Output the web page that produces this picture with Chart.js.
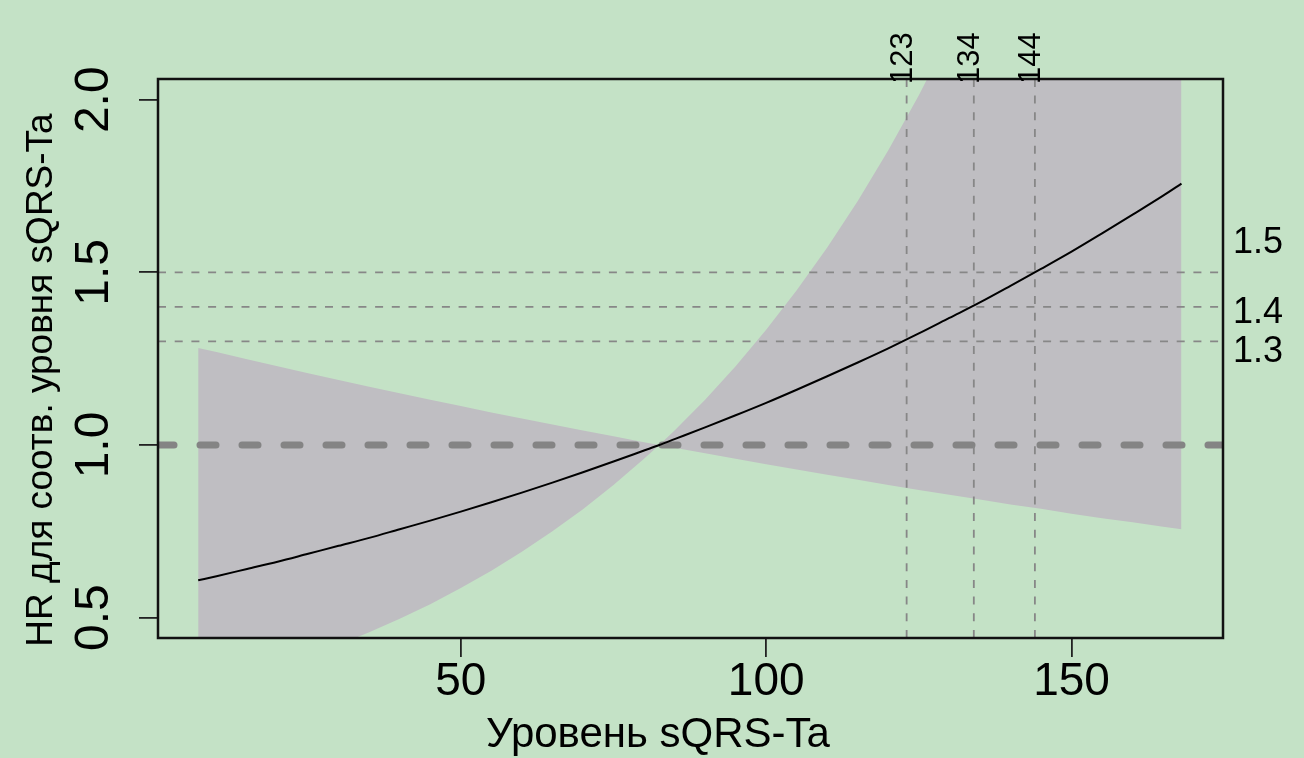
<!DOCTYPE html>
<html>
<head>
<meta charset="utf-8">
<script src="https://cdn.jsdelivr.net/npm/chart.js@4.4.1/dist/chart.umd.min.js"></script>
<style>
  html, body { margin: 0; padding: 0; background: #C4E2C6; }
  #wrap { width: 1304px; height: 758px; }
</style>
</head>
<body>
<div id="wrap"><canvas id="hrChart" width="1304" height="758"></canvas></div>
<script>
// sQRS-Ta level (x) and hazard ratio with its confidence band
const sqrsLevels = [7, 10, 15, 20, 25, 30, 35, 40, 45, 50, 55, 60, 65, 70, 75, 80, 82.5,
                    85, 90, 95, 100, 105, 110, 115, 120, 125, 130, 135, 140, 145, 150, 155, 160, 165, 168];
const hrValues = [0.608, 0.620, 0.641, 0.662, 0.685, 0.708, 0.731, 0.756, 0.781, 0.807, 0.834, 0.862, 0.891, 0.921, 0.952, 0.984, 1.000,
                  1.017, 1.051, 1.086, 1.122, 1.160, 1.199, 1.239, 1.280, 1.323, 1.368, 1.413, 1.461, 1.510, 1.560, 1.613, 1.667, 1.722, 1.757];
const hrLower = [0.289, 0.303, 0.329, 0.358, 0.388, 0.421, 0.458, 0.497, 0.539, 0.586, 0.636, 0.691, 0.750, 0.814, 0.884, 0.960, 1.000,
                 0.992, 0.976, 0.960, 0.944, 0.929, 0.914, 0.899, 0.884, 0.870, 0.856, 0.842, 0.828, 0.815, 0.801, 0.788, 0.776, 0.763, 0.756];
const hrUpper = [1.281, 1.269, 1.248, 1.228, 1.208, 1.188, 1.169, 1.150, 1.131, 1.113, 1.094, 1.077, 1.059, 1.042, 1.025, 1.008, 1.000,
                 1.042, 1.131, 1.228, 1.334, 1.448, 1.572, 1.707, 1.854, 2.013, 2.186, 2.373, 2.577, 2.798, 3.038, 3.298, 3.581, 3.888, 4.085];

// cut-off levels and the hazard ratios they correspond to
const cutoffLevels = [123, 134, 144];
const cutoffHR = [1.3, 1.4, 1.5];
const referenceHR = 1.0;

// axis ticks and limits
const xTickValues = [50, 100, 150];
const yTickValues = [0.5, 1.0, 1.5, 2.0];
const xLimits = [0.42, 174.8];
const yLimits = [0.441, 2.06];

const xTitle = 'Уровень sQRS-Ta';
const yTitle = 'HR для соотв. уровня sQRS-Ta';

const FONT = "'Liberation Sans', Arial, Helvetica, sans-serif";
const BG = '#C4E2C6';
const BAND = '#BFBEC2';
const REF_GREY = '#878787';

const toPoints = (xs, ys) => xs.map((x, i) => ({ x: x, y: ys[i] }));

const datasets = [];
// fitted hazard ratio curve
datasets.push({
  label: 'HR', data: toPoints(sqrsLevels, hrValues),
  borderColor: '#000', borderWidth: 2, pointRadius: 0,
  cubicInterpolationMode: 'monotone', fill: false, order: 0
});
// thin dashed guides: horizontal at the cut-off HRs, vertical at the cut-off levels
cutoffHR.forEach(v => datasets.push({
  data: [{ x: xLimits[0], y: v }, { x: xLimits[1], y: v }],
  borderColor: REF_GREY, borderWidth: 1.8, borderDash: [8, 8.7],
  pointRadius: 0, fill: false, order: 1
}));
cutoffLevels.forEach(v => datasets.push({
  data: [{ x: v, y: yLimits[0] }, { x: v, y: yLimits[1] }],
  borderColor: REF_GREY, borderWidth: 1.8, borderDash: [8, 8.7],
  pointRadius: 0, fill: false, order: 1
}));
// heavy dashed reference line at HR = 1
datasets.push({
  data: [{ x: xLimits[0], y: referenceHR }, { x: xLimits[1], y: referenceHR }],
  borderColor: '#848484', borderWidth: 7, borderDash: [16, 26], borderCapStyle: 'round',
  pointRadius: 0, fill: false, order: 1
});
// confidence band (upper edge filled down to the lower edge)
datasets.push({
  data: toPoints(sqrsLevels, hrUpper), borderWidth: 0, borderColor: 'rgba(0,0,0,0)',
  backgroundColor: BAND, pointRadius: 0, fill: '+1', order: 2
});
datasets.push({
  data: toPoints(sqrsLevels, hrLower), borderWidth: 0, borderColor: 'rgba(0,0,0,0)',
  backgroundColor: BAND, pointRadius: 0, fill: false, order: 2
});

const decorations = {
  id: 'decorations',
  beforeDraw(chart) {
    const ctx = chart.ctx;
    ctx.save();
    ctx.fillStyle = BG;
    ctx.fillRect(0, 0, chart.width, chart.height);
    ctx.restore();
  },
  afterDatasetsDraw(chart) {
    const { ctx, chartArea: a } = chart;
    ctx.save();
    ctx.strokeStyle = '#111';
    ctx.lineWidth = 2.5;
    ctx.strokeRect(a.left, a.top, a.right - a.left, a.bottom - a.top);
    ctx.restore();
  },
  afterDraw(chart) {
    const { ctx, chartArea: a } = chart;
    const xs = chart.scales.x, ys = chart.scales.y;
    ctx.save();
    ctx.fillStyle = '#000';
    ctx.textBaseline = 'alphabetic';

    // y tick labels, written along the axis
    ctx.font = '48px ' + FONT;
    ctx.textAlign = 'center';
    yTickValues.forEach(v => {
      ctx.save();
      ctx.translate(a.left - 50, ys.getPixelForValue(v));
      ctx.rotate(-Math.PI / 2);
      ctx.fillText(v.toFixed(1), 0, 0);
      ctx.restore();
    });

    // y axis title
    ctx.font = '37px ' + FONT;
    ctx.save();
    ctx.translate(52, 380);
    ctx.rotate(-Math.PI / 2);
    ctx.fillText(yTitle, 0, 0);
    ctx.restore();

    // x axis title
    ctx.font = '42px ' + FONT;
    ctx.fillText(xTitle, 658, 747);

    // cut-off levels above the plot
    ctx.font = '31px ' + FONT;
    ctx.textAlign = 'left';
    cutoffLevels.forEach(v => {
      ctx.save();
      ctx.translate(xs.getPixelForValue(v) + 5.5, a.top + 5);
      ctx.rotate(-Math.PI / 2);
      ctx.fillText(String(v), 0, 0);
      ctx.restore();
    });

    // cut-off HRs to the right of the plot
    ctx.font = '36px ' + FONT;
    const shift = { '1.3': 21, '1.4': 16, '1.5': -19.4 };
    cutoffHR.forEach(v => {
      const t = v.toFixed(1);
      ctx.fillText(t, a.right + 10, ys.getPixelForValue(v) + shift[t]);
    });
    ctx.restore();
  }
};

new Chart(document.getElementById('hrChart'), {
  type: 'line',
  data: { datasets: datasets },
  plugins: [decorations],
  options: {
    responsive: false,
    animation: false,
    devicePixelRatio: 1,
    layout: { padding: { left: 0, top: 79, right: 81, bottom: 0 } },
    plugins: { legend: { display: false }, tooltip: { enabled: false } },
    elements: { line: { tension: 0 } },
    scales: {
      x: {
        type: 'linear', position: 'bottom', min: xLimits[0], max: xLimits[1],
        afterBuildTicks: s => { s.ticks = xTickValues.map(v => ({ value: v })); },
        afterFit: s => { s.height = 120; },
        border: { display: false },
        grid: { drawOnChartArea: false, drawTicks: true, tickLength: 19, color: '#222', lineWidth: 1.8 },
        ticks: {
          autoSkip: false, maxRotation: 0, padding: -2, color: '#000',
          font: { family: FONT, size: 46 },
          callback: v => String(v)
        }
      },
      y: {
        type: 'linear', position: 'left', min: yLimits[0], max: yLimits[1],
        afterBuildTicks: s => { s.ticks = yTickValues.map(v => ({ value: v })); },
        afterFit: s => { s.width = 158; },
        border: { display: false },
        grid: { drawOnChartArea: false, drawTicks: true, tickLength: 19, color: '#222', lineWidth: 1.8 },
        ticks: { display: false }
      }
    }
  }
});
</script>
</body>
</html>
